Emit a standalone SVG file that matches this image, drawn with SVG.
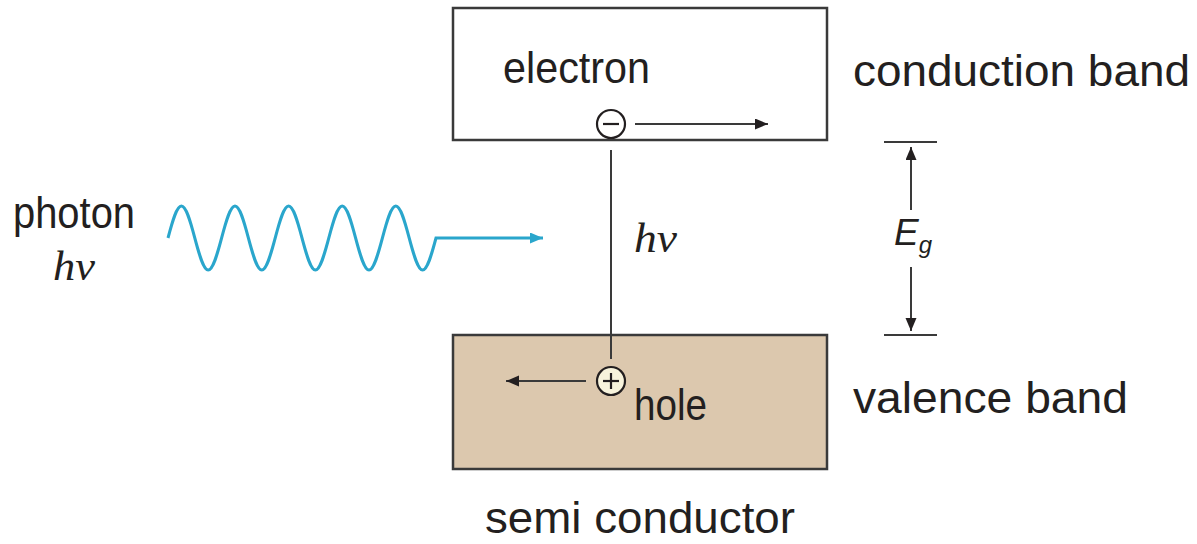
<svg xmlns="http://www.w3.org/2000/svg" width="1197" height="544" viewBox="0 0 1197 544">
<style>
.lbl{font-family:"Liberation Sans",Arial,sans-serif;font-size:45px;fill:#231f20}
.it{font-family:"Liberation Serif","Times New Roman",serif;font-style:italic;fill:#231f20}
.box{stroke:#3a3a3a;stroke-width:2.5}
.ln{stroke:#3a3a3a;stroke-width:2;fill:none}
</style>
<defs>
<marker id="ah" markerUnits="userSpaceOnUse" markerWidth="14" markerHeight="12" refX="13" refY="5.5" orient="auto">
<path d="M0,0 L13,5.5 L0,11 z" fill="#231f20"/>
</marker>
<marker id="ahb" markerUnits="userSpaceOnUse" markerWidth="14" markerHeight="12" refX="13" refY="5.5" orient="auto">
<path d="M0,0 L13,5.5 L0,11 z" fill="#2aa6cc"/>
</marker>
</defs>
<rect width="1197" height="544" fill="#fff"/>

<g id="conduction-band">
<rect class="box" x="453" y="8" width="374" height="132" fill="#fff"/>
<text class="lbl" x="503" y="83" textLength="147" lengthAdjust="spacingAndGlyphs">electron</text>
</g>

<g id="valence-band">
<rect class="box" x="453" y="335" width="374" height="134" fill="#dcc8ae"/>
<text class="lbl" x="634" y="420" textLength="73" lengthAdjust="spacingAndGlyphs">hole</text>
</g>

<g id="connectors">
<line class="ln" x1="611" y1="150" x2="611" y2="359"/>
<line class="ln" x1="635" y1="124" x2="768" y2="124" marker-end="url(#ah)"/>
<line class="ln" x1="586" y1="381" x2="506" y2="381" marker-end="url(#ah)"/>
<path d="M168,238 c4.37,-16.39 8.55,-32 13.4,-32 c4.85,0 9.03,15.61 13.4,32 c4.37,16.39 8.55,32 13.4,32 c4.85,0 9.03,-15.61 13.4,-32
c4.37,-16.39 8.55,-32 13.4,-32 c4.85,0 9.03,15.61 13.4,32 c4.37,16.39 8.55,32 13.4,32 c4.85,0 9.03,-15.61 13.4,-32
c4.37,-16.39 8.55,-32 13.4,-32 c4.85,0 9.03,15.61 13.4,32 c4.37,16.39 8.55,32 13.4,32 c4.85,0 9.03,-15.61 13.4,-32
c4.37,-16.39 8.55,-32 13.4,-32 c4.85,0 9.03,15.61 13.4,32 c4.37,16.39 8.55,32 13.4,32 c4.85,0 9.03,-15.61 13.4,-32
c4.37,-16.39 8.55,-32 13.4,-32 c4.85,0 9.03,15.61 13.4,32 c4.37,16.39 8.55,32 13.4,32 c4.85,0 9.03,-15.61 13.4,-32
L543,238" fill="none" stroke="#2aa6cc" stroke-width="3" marker-end="url(#ahb)"/>
<line class="ln" x1="884" y1="142" x2="937" y2="142"/>
<line class="ln" x1="884" y1="335" x2="937" y2="335"/>
<line class="ln" x1="911" y1="210" x2="911" y2="147" marker-end="url(#ah)"/>
<line class="ln" x1="911" y1="267" x2="911" y2="331" marker-end="url(#ah)"/>
</g>

<g id="electron">
<circle cx="611" cy="124" r="14" fill="#fff" stroke="#231f20" stroke-width="2.2"/>
<line x1="603" y1="124" x2="619" y2="124" stroke="#231f20" stroke-width="2.2"/>
</g>

<g id="hole">
<circle cx="611" cy="381" r="14" fill="#f7f3dc" stroke="#231f20" stroke-width="2.2"/>
<line x1="603" y1="381" x2="619" y2="381" stroke="#231f20" stroke-width="2.2"/>
<line x1="611" y1="373" x2="611" y2="389" stroke="#231f20" stroke-width="2.2"/>
</g>

<g id="labels">
<text class="lbl" x="853" y="86" textLength="337" lengthAdjust="spacingAndGlyphs">conduction band</text>
<text class="lbl" x="853" y="413" textLength="275" lengthAdjust="spacingAndGlyphs">valence band</text>
<text class="lbl" x="485" y="533" textLength="310" lengthAdjust="spacingAndGlyphs">semi conductor</text>
<text class="lbl" x="13" y="228" textLength="122" lengthAdjust="spacingAndGlyphs">photon</text>
<text class="it" x="53" y="280" font-size="43" textLength="42" lengthAdjust="spacingAndGlyphs">hν</text>
<text class="it" x="634" y="252" font-size="43" textLength="43" lengthAdjust="spacingAndGlyphs">hν</text>
<text x="894" y="245" font-family="Liberation Sans,Arial,sans-serif" font-style="italic" font-size="37" fill="#231f20">E<tspan font-size="24" dy="8">g</tspan></text>
</g>
</svg>
